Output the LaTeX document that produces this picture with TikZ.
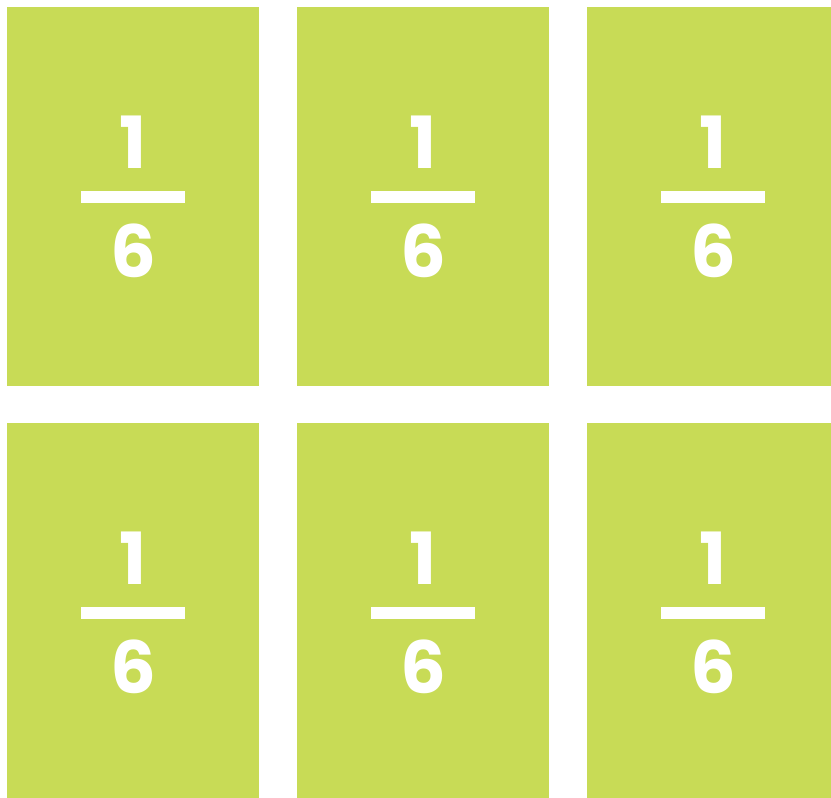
\documentclass[tikz,border=0pt]{standalone}
\usepackage{fontspec}
\setmainfont{Poppins}
\definecolor{lime}{HTML}{C8DB56}
\begin{document}
\begin{tikzpicture}[x=1pt,y=-1pt,
  card/.style={fill=lime,draw=none},
  digit/.style={text=white,inner sep=0pt,text depth=0pt,font=\fontsize{72}{72}\selectfont\bfseries},
  fbar/.style={fill=white,draw=none}]
\useasboundingbox (0,0) rectangle (831,798);
\foreach \r/\ya/\yb in {0/7/386,1/423/798}{
  \foreach \c/\xa/\xb in {0/7/259,1/297/549,2/587/831}{
    \fill[card] (\xa,\ya) rectangle (\xb,\yb);
    \pgfmathsetmacro{\cx}{133+290*\c}
    \pgfmathsetmacro{\cy}{196.5+416*\r}
    \node[digit] (n\r\c) at (\cx,\cy-54.5) {1};
    \node[digit] (d\r\c) at (\cx,\cy+54.5) {6};
    \fill[fbar] (\cx-52,\cy-6) rectangle (\cx+52,\cy+6);
  }
}
\end{tikzpicture}
\end{document}
